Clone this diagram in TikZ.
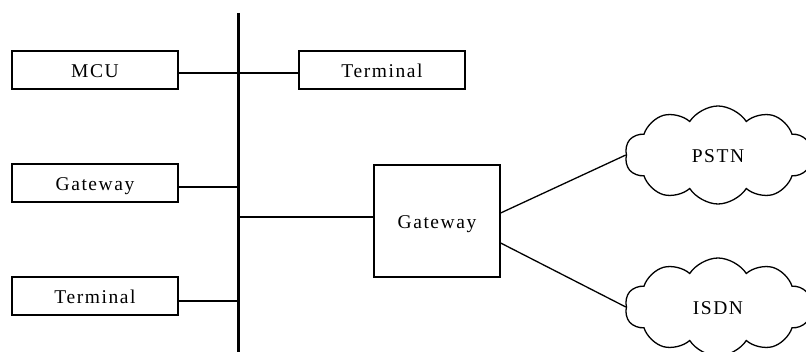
\documentclass[tikz,border=0pt]{standalone}
\usepackage{fontspec}
\setmainfont{Liberation Serif}[LetterSpace=8]
\usetikzlibrary{shapes.symbols,calc}
\begin{document}
\begin{tikzpicture}[x=1pt,y=-1pt,
  lbl/.style={font=\fontsize{19.5}{21}\selectfont,text height=16pt,text depth=0pt},
  box/.style={draw,line width=1.3pt,minimum width=166pt,minimum height=38pt,inner sep=0pt,lbl},
  wire/.style={line width=1.3pt},
  net/.style={cloud,draw,line width=1.3pt,cloud puffs=10,cloud puff arc=115,aspect=1.9,minimum width=186pt,minimum height=98pt,inner sep=0pt,lbl}]
\useasboundingbox (0,0) rectangle (806,352);
\clip (0,0) rectangle (806,352);
\coordinate (bt) at (238,13);
\coordinate (bb) at (238,354);
\draw[line width=3pt] (bt) -- (bb);
\node[box] (mcu) at (95,70) {MCU};
\node[box] (term1) at (382,70) {Terminal};
\node[box] (gw1) at (95,183) {Gateway};
\node[box] (term2) at (95,296) {Terminal};
\node[box,minimum width=126pt,minimum height=112pt] (gw2) at (437,221) {Gateway};
\node[net] (pstn) at (718,155) {PSTN};
\node[net] (isdn) at (718,307) {ISDN};
\coordinate (j1) at (238,73);
\coordinate (j2) at (238,187);
\coordinate (j3) at (238,217);
\coordinate (j4) at (238,301);
\draw[wire] (mcu.east |- j1) -- (term1.west |- j1);
\draw[wire] (gw1.east |- j2) -- (j2);
\draw[wire] (j3) -- (gw2.west |- j3);
\draw[wire] (term2.east |- j4) -- (j4);
\draw[wire] ($(gw2.east)+(0,-8)$) -- (pstn.west);
\draw[wire] ($(gw2.east)+(0,22)$) -- (isdn.west);
\end{tikzpicture}
\end{document}
